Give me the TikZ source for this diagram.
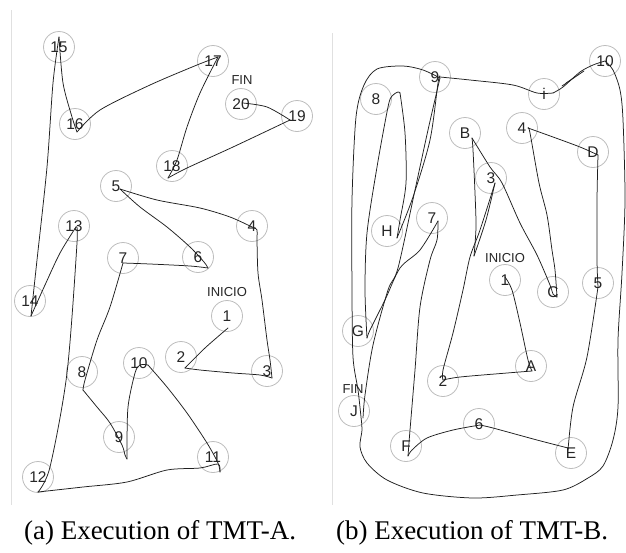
\documentclass[tikz,border=0pt]{standalone}
\usepackage{fontspec}
\setmainfont{Liberation Serif}
\setsansfont{Liberation Sans}
\begin{document}
\begin{tikzpicture}[x=1pt,y=-1pt,
  target/.style={circle,draw=ringgray,line width=0.8pt,minimum size=31pt,inner sep=0pt,
    text=black!85,font=\sffamily\fontsize{15.5}{15.5}\selectfont},
  tag/.style={text=black!85,font=\sffamily\fontsize{13}{13}\selectfont,inner sep=0pt},
  pen/.style={draw=black!88,line width=0.75pt,line join=round,line cap=round},
  frame/.style={draw=black!12,line width=0.8pt},
  caption/.style={font=\fontsize{27}{27}\selectfont,inner sep=0pt}]
\definecolor{ringgray}{HTML}{BDBDBD}
\useasboundingbox (0,0) rectangle (626,552);
\fill[white] (0,0) rectangle (626,552);

% panel edges
\draw[frame] (11,10) -- (11,505);
\draw[frame] (332,33) -- (332,505);

% ---------- TMT-A targets ----------
\node[target] (a1) at (227,316) {1};
\node[target] (a2) at (181,357) {2};
\node[target] (a3) at (267,371) {3};
\node[target] (a4) at (252,226) {4};
\node[target] (a5) at (116,186) {5};
\node[target] (a6) at (198,257) {6};
\node[target] (a7) at (123,258) {7};
\node[target] (a8) at (82,372) {8};
\node[target] (a9) at (119,437) {9};
\node[target] (a10) at (139,363) {10};
\node[target] (a11) at (213,457) {11};
\node[target] (a12) at (38,477) {12};
\node[target] (a13) at (74,226) {13};
\node[target] (a14) at (30,301) {14};
\node[target] (a15) at (59,47) {15};
\node[target] (a16) at (75,124) {16};
\node[target] (a17) at (213,61) {17};
\node[target] (a18) at (172,166) {18};
\node[target] (a19) at (297,116) {19};
\node[target] (a20) at (241,104) {20};
\node[tag] (astart) at (227,292) {INICIO};
\node[tag] (aend) at (242,80) {FIN};

% ---------- TMT-A pen trace ----------
\draw[pen] plot[smooth,tension=0.5] coordinates {(228,328) (205,348) (185,368)};
\draw[pen] plot[smooth,tension=0.5] coordinates {(185,368) (200,370) (233,373) (260,375) (272,378)};
\draw[pen] plot[smooth,tension=0.5] coordinates {(272,378) (270,360) (267,340) (262,300) (258,273) (257,240) (257,230) (252,227)};
\draw[pen] plot[smooth,tension=0.5] coordinates {(252,227) (230,217) (200,208) (157,200) (120,189)};
\draw[pen] plot[smooth,tension=0.5] coordinates {(120,189) (140,207) (167,227) (190,247) (204,262) (208,268)};
\draw[pen] plot[smooth,tension=0.5] coordinates {(208,268) (190,266) (150,264) (123,263)};
\draw[pen] plot[smooth,tension=0.5] coordinates {(123,263) (110,307) (97,340) (85,380) (83,390)};
\draw[pen] plot[smooth,tension=0.5] coordinates {(83,390) (97,407) (110,423) (122,445) (125,455) (127,459)};
\draw[pen] plot[smooth,tension=0.5] coordinates {(127,459) (127,450) (128,407) (135,373) (140,365) (148,365)};
\draw[pen] plot[smooth,tension=0.5] coordinates {(148,365) (167,387) (187,413) (207,443) (218,463) (220,472)};
\draw[pen] plot[smooth,tension=0.5] coordinates {(220,472) (218,464) (200,468) (167,470) (127,482) (83,487) (38,492)};
\draw[pen] plot[smooth,tension=0.5] coordinates {(38,492) (50,467) (67,373) (77,243) (76,227)};
\draw[pen] plot[smooth,tension=0.5] coordinates {(76,227) (60,253) (45,285) (31,316)};
\draw[pen] plot[smooth,tension=0.5] coordinates {(31,316) (37,260) (47,167) (53,83) (59,37)};
\draw[pen] plot[smooth,tension=0.5] coordinates {(59,37) (63,83) (72,117) (77,132)};
\draw[pen] plot[smooth,tension=0.5] coordinates {(77,132) (100,110) (150,85) (197,65) (218,57)};
\draw[pen] plot[smooth,tension=0.5] coordinates {(218,57) (200,93) (187,127) (177,160) (168,178)};
\draw[pen] plot[smooth,tension=0.5] coordinates {(168,178) (187,168) (233,147) (290,120)};
\draw[pen] plot[smooth,tension=0.5] coordinates {(290,120) (267,107) (243,103)};

% ---------- TMT-B targets ----------
\node[target] (b1) at (505,280) {1};
\node[target] (bA) at (531,366) {A};
\node[target] (b2) at (443,381) {2};
\node[target] (bB) at (465,133) {B};
\node[target] (b3) at (491,178) {3};
\node[target] (bC) at (553,292) {C};
\node[target] (b4) at (522,128) {4};
\node[target] (bD) at (593,152) {D};
\node[target] (b5) at (598,283) {5};
\node[target] (bE) at (571,453) {E};
\node[target] (b6) at (479,424) {6};
\node[target] (bF) at (406,446) {F};
\node[target] (b7) at (432,218) {7};
\node[target] (bG) at (358,331) {G};
\node[target] (b8) at (376,99) {8};
\node[target] (bH) at (387,231) {H};
\node[target] (b9) at (435,77) {9};
\node[target] (bI) at (544,94) {i};
\node[target] (b10) at (605,61) {10};
\node[target] (bJ) at (354,411) {J};
\node[tag] (bstart) at (505,258) {INICIO};
\node[tag] (bend) at (353,389) {FIN};

% ---------- TMT-B pen trace ----------
\draw[pen] plot[smooth,tension=0.5] coordinates {(505,277) (512,290) (520,323) (528,360) (532,371)};
\draw[pen] plot[smooth,tension=0.5] coordinates {(532,371) (507,373) (460,377) (443,380)};
\draw[pen] plot[smooth,tension=0.5] coordinates {(443,380) (443,370) (453,333) (463,290) (470,257) (480,230) (495,183)};
\draw[pen] plot[smooth,tension=0.5] coordinates {(495,183) (486,220) (474,256)};
\draw[pen] plot[smooth,tension=0.5] coordinates {(474,256) (476,227) (475,193) (473,150) (472,138)};
\draw[pen] plot[smooth,tension=0.5] coordinates {(472,138) (490,167) (502,183) (520,223) (537,255) (550,285) (553,294) (557,297)};
\draw[pen] plot[smooth,tension=0.5] coordinates {(557,297) (555,270) (552,250) (547,215) (539,183) (530,133) (528,128)};
\draw[pen] plot[smooth,tension=0.5] coordinates {(528,128) (553,137) (580,147) (598,155)};
\draw[pen] plot[smooth,tension=0.5] coordinates {(598,155) (597,200) (597,260) (598,287)};
\draw[pen] plot[smooth,tension=0.5] coordinates {(598,287) (587,357) (573,407) (568,450)};
\draw[pen] plot[smooth,tension=0.5] coordinates {(568,448) (537,440) (493,428) (480,425)};
\draw[pen] plot[smooth,tension=0.5] coordinates {(480,425) (453,430) (427,438) (412,450) (408,456)};
\draw[pen] plot[smooth,tension=0.5] coordinates {(408,456) (410,430) (415,370) (420,307) (430,260) (437,240) (438,221)};
\draw[pen] plot[smooth,tension=0.5] coordinates {(438,221) (420,250) (400,268) (385,300) (370,330) (367,338)};
\draw[pen] plot[smooth,tension=0.5] coordinates {(367,338) (365,290) (367,233) (377,167) (388,107) (392,96) (398,92) (400,93)};
\draw[pen] plot[smooth,tension=0.5] coordinates {(400,93) (405,133) (406,183) (400,220) (397,238)};
\draw[pen] plot[smooth,tension=0.5] coordinates {(397,238) (413,197) (430,140) (438,83) (440,76)};
\draw[pen] plot[smooth,tension=0.5] coordinates {(440,77) (470,80) (513,85) (537,93) (553,93)};
\draw[pen] plot[smooth,tension=0.5] coordinates {(553,93) (563,87) (580,72) (593,65) (605,61)};
\draw[pen] (562,86) -- (581,73) -- (566,83) -- (584,71);
\draw[pen] plot[smooth,tension=0.5] coordinates {(605,61) (613,70) (620,90) (623,120) (625,200) (622,273) (618,340) (618,407) (613,440) (603,466) (588,478) (563,490) (517,495) (473,498) (423,493) (387,480) (367,463) (360,447) (362,430) (361,417) (358,390) (353,357) (352,290) (352,200) (356,117) (364,85) (377,69) (403,66) (423,70) (440,78)};
\draw[pen] plot[smooth,tension=0.5] coordinates {(440,78) (428,130) (415,190) (398,268) (388,290) (373,345) (365,395) (363,418)};

% ---------- captions ----------
\node[caption] (capa) at (160,533) {(a) Execution of TMT-A.};
\node[caption] (capb) at (472,533) {(b) Execution of TMT-B.};
\end{tikzpicture}
\end{document}
